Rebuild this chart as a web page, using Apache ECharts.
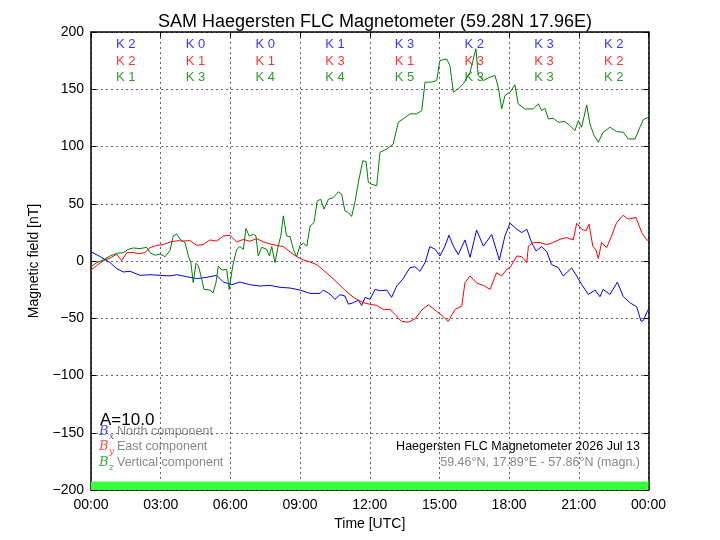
<!DOCTYPE html>
<html>
<head>
<meta charset="utf-8">
<script src="https://cdn.jsdelivr.net/npm/echarts@6/dist/echarts.min.js"></script>
<style>html,body{margin:0;padding:0;background:#fff}#chart{width:720px;height:540px}</style>
</head>
<body>
<div id="chart"></div>
<script>
// Data: [hour UTC, nT]
const northComponent = [[0,8],[0.39,3.9],[0.82,-1.4],[1.11,-6.7],[1.39,-9.6],[1.68,-9],[2.11,-12.5],[2.54,-12],[2.97,-12.5],[3.40,-13],[3.69,-12],[4.12,-13.7],[4.55,-15.4],[4.98,-14.3],[5.41,-12.5],[5.70,-18.4],[6.06,-20.7],[6.41,-18.4],[6.84,-20.7],[7.28,-21.9],[7.71,-21.3],[8.14,-23],[8.57,-23.6],[9.00,-25.4],[9.43,-28.3],[9.86,-28.3],[10.00,-25.4],[10.29,-28.9],[10.50,-33.5],[10.72,-29.4],[10.93,-30.6],[11.08,-37.7],[11.29,-36.5],[11.51,-34.2],[11.65,-38.8],[11.80,-31.8],[12.01,-33.5],[12.23,-24.8],[12.44,-26],[12.73,-25.4],[12.94,-31.8],[13.16,-21.9],[13.44,-15.4],[13.73,-5.8],[13.95,-5],[14.16,-9],[14.38,-1.4],[14.59,12.6],[14.81,10.3],[15.02,4.4],[15.24,13.1],[15.41,22.5],[15.60,13],[15.81,5.6],[16.10,18.4],[16.32,3.2],[16.60,27.1],[16.89,13],[17.25,23.1],[17.58,0.9],[17.82,21.9],[18.04,33],[18.33,27.8],[18.54,24.8],[18.76,27.8],[18.97,16.1],[19.16,8.8],[19.40,12.6],[19.62,8.2],[19.83,-3.2],[20.12,-5.8],[20.33,-13.1],[20.69,-6.1],[20.91,-13.1],[21.12,-20.4],[21.41,-29.2],[21.70,-25.4],[21.91,-31.2],[22.05,-24.8],[22.34,-29.2],[22.66,-18.4],[22.91,-31],[23.20,-36.4],[23.49,-40],[23.68,-52.8],[23.78,-52],[23.95,-43.8],[24,-42]];
const eastComponent = [[0,-7.9],[0.25,-3.8],[0.53,0.3],[0.82,2.6],[1.11,5.9],[1.32,0.3],[1.54,7.3],[1.82,7.5],[2.04,6.3],[2.32,7.3],[2.54,11.7],[2.83,13.7],[3.11,14.3],[3.40,16.6],[3.69,17.7],[3.97,17.4],[4.26,17.8],[4.55,13.7],[4.83,14.3],[5.12,18.4],[5.41,17.4],[5.70,21.9],[5.98,22.5],[6.27,16.6],[6.56,18.9],[6.84,17.2],[7.13,19.6],[7.42,16.6],[7.71,14.9],[7.99,13.7],[8.28,12.6],[8.57,7.9],[8.85,3.8],[9.14,0.9],[9.43,-0.9],[9.72,-3.2],[10.00,-7.9],[10.29,-13.1],[10.58,-18.4],[10.86,-24.2],[11.15,-29.4],[11.44,-33.5],[11.72,-36.4],[12.01,-37.8],[12.30,-38.8],[12.58,-42.3],[12.87,-42.3],[13.09,-46.7],[13.37,-52.8],[13.66,-53.4],[13.95,-50.5],[14.24,-42.9],[14.52,-38.2],[14.81,-42.9],[15.10,-47.5],[15.38,-52.8],[15.67,-42.3],[15.96,-39.4],[16.10,-18.9],[16.32,-13.1],[16.60,-19.2],[16.89,-21.3],[17.18,-24.8],[17.46,-10.2],[17.68,-13.1],[17.90,-7.3],[18.04,-5.8],[18.33,4.4],[18.54,3.8],[18.76,-1.4],[18.83,13.1],[19.04,16.1],[19.33,16.1],[19.62,14.3],[19.90,16.1],[20.19,19],[20.48,20.4],[20.76,18.4],[20.91,33],[21.12,27.8],[21.31,26.3],[21.44,32.1],[21.60,13.1],[21.74,9.6],[21.84,2.1],[21.98,16.1],[22.20,11.7],[22.41,21.9],[22.63,33.6],[22.91,40],[23.13,36.5],[23.46,38],[23.71,24.8],[23.92,18.4],[24,18]];
const verticalComponent = [[0,-4.9],[0.25,-1.4],[0.53,0.9],[0.82,4.4],[1.11,6.7],[1.39,7.3],[1.61,10.2],[1.82,11.4],[2.11,10.8],[2.40,12],[2.54,7.3],[2.76,5],[2.97,6.1],[3.19,3.8],[3.40,9.1],[3.54,21.9],[3.69,23.6],[3.83,19],[4.05,16.1],[4.19,4.4],[4.30,-1.4],[4.40,-18.9],[4.52,-2],[4.62,-4],[4.77,-16],[4.86,-24.8],[5.12,-25.4],[5.26,-27.8],[5.38,-18.9],[5.48,-4.4],[5.63,-7.9],[5.84,-7.3],[5.95,-24.8],[6.10,-4.4],[6.27,10.2],[6.41,12.6],[6.56,10.2],[6.67,28.4],[6.81,21.9],[6.99,23.3],[7.10,21.9],[7.20,4.4],[7.35,12],[7.56,10.2],[7.68,4.4],[7.78,12.6],[7.92,-1.4],[8.06,13.1],[8.17,21.9],[8.28,39.4],[8.42,21.9],[8.57,21.3],[8.71,10.2],[8.85,3.8],[9.00,13.7],[9.14,15.5],[9.29,13.1],[9.43,30.6],[9.60,33.5],[9.74,52.5],[9.89,53.9],[10.03,45.3],[10.22,53.9],[10.43,55.3],[10.65,60.4],[10.79,58.4],[10.93,43.8],[11.08,42.3],[11.22,38.9],[11.36,51.1],[11.51,68.7],[11.70,87.6],[11.84,86.7],[11.94,68.7],[12.08,67],[12.30,65.7],[12.44,94.9],[12.73,97.8],[13.01,102.2],[13.23,121.2],[13.44,124.1],[13.73,128.5],[14.02,128.5],[14.24,131.4],[14.38,156.2],[14.67,156.2],[14.88,157.6],[15.02,175.1],[15.31,176.5],[15.45,170.7],[15.60,147.5],[15.81,150.4],[16.03,154.8],[16.32,165],[16.57,185.4],[16.67,162],[16.89,157.6],[17.18,160.6],[17.39,162],[17.53,151.9],[17.68,132.8],[17.82,144.5],[18.04,147.5],[18.25,153.9],[18.39,137.2],[18.68,132.8],[19.04,132.8],[19.26,137.2],[19.40,131.4],[19.54,133.4],[19.69,124.1],[19.90,124.7],[20.12,121.2],[20.40,121.8],[20.62,118.2],[20.83,113.8],[20.98,122.6],[21.12,116.8],[21.34,136.3],[21.48,119.7],[21.65,110],[21.84,103.7],[22.05,112.5],[22.34,116.8],[22.63,113],[22.91,112.5],[23.13,106.6],[23.42,106.6],[23.63,116.8],[23.78,123.5],[23.95,125.2],[24,125.5]];

// K indices per 3-hour interval
const kNorth = [2,0,0,1,3,2,3,2];
const kEast = [2,1,1,3,1,3,3,2];
const kVertical = [1,3,4,4,5,3,3,2];

const FONT = 'Liberation Sans, Arial, sans-serif';
const kRowY = [189, 174.6, 160.6];
function kSeries(arr, rowY, color) {
  return {
    type: 'scatter', xAxisIndex: 0, yAxisIndex: 0, symbolSize: 0, silent: true, z: 5,
    data: arr.map((k, i) => [i * 3 + 1.5, rowY, k]),
    label: { show: true, position: 'inside', formatter: p => 'K ' + p.data[2], color: color, fontSize: 13, fontFamily: FONT }
  };
}
const gridLine = { show: true, lineStyle: { color: '#666', type: [2, 3], width: 1 } };
const axisLine = { show: true, onZero: false, lineStyle: { color: '#000', width: 1.5 } };
const tick = { show: true, inside: true, length: 5, lineStyle: { color: '#000', width: 1 } };
const fmtX = v => String(v % 24).padStart(2, '0') + ':00';
const fmtY = v => String(v).replace('-', '\u2212');

const chart = echarts.init(document.getElementById('chart'));
chart.setOption({
  animation: false,
  backgroundColor: '#fff',
  title: { text: 'SAM Haegersten FLC Magnetometer (59.28N 17.96E)', left: 370, top: 8, textAlign: 'center',
    textStyle: { fontSize: 18, fontWeight: 'normal', color: '#000', fontFamily: FONT } },
  grid: { left: 91, right: 71.5, top: 32, bottom: 50 },
  xAxis: [
    { type: 'value', min: 0, max: 24, interval: 3, position: 'bottom',
      name: 'Time [UTC]', nameLocation: 'middle', nameGap: 25,
      nameTextStyle: { fontSize: 14, color: '#000', fontFamily: FONT },
      axisLine, axisTick: tick, splitLine: gridLine,
      axisLabel: { formatter: fmtX, fontSize: 14, color: '#000', margin: 8, fontFamily: FONT } },
    { type: 'value', min: 0, max: 24, interval: 3, position: 'top',
      axisLine, axisTick: tick, splitLine: { show: false }, axisLabel: { show: false } }
  ],
  yAxis: [
    { type: 'value', min: -200, max: 200, interval: 50, position: 'left',
      name: 'Magnetic field [nT]', nameLocation: 'middle', nameGap: 44, nameRotate: 90,
      nameTextStyle: { fontSize: 14, color: '#000', fontFamily: FONT },
      axisLine, axisTick: tick, splitLine: gridLine,
      axisLabel: { formatter: fmtY, fontSize: 14, color: '#000', margin: 7, fontFamily: FONT } },
    { type: 'value', min: -200, max: 200, interval: 50, position: 'right',
      axisLine, axisTick: tick, splitLine: { show: false }, axisLabel: { show: false } }
  ],
  series: [
    { type: 'line', name: 'green bar', data: [], markArea: { silent: true, itemStyle: { color: '#3cff3c', opacity: 1 },
        data: [[{ xAxis: 0, yAxis: -200 }, { xAxis: 24, yAxis: -192.5 }]] } },
    { type: 'line', name: 'Bx', data: northComponent, showSymbol: false, lineStyle: { color: '#0000ff', width: 1 }, itemStyle: { color: '#0000ff' }, z: 3 },
    { type: 'line', name: 'By', data: eastComponent, showSymbol: false, lineStyle: { color: '#ff0000', width: 1 }, itemStyle: { color: '#ff0000' }, z: 3 },
    { type: 'line', name: 'Bz', data: verticalComponent, showSymbol: false, lineStyle: { color: '#007f00', width: 1 }, itemStyle: { color: '#007f00' }, z: 4 },
    kSeries(kNorth, kRowY[0], '#0000ff'),
    kSeries(kEast, kRowY[1], '#ff0000'),
    kSeries(kVertical, kRowY[2], '#008000')
  ],
  graphic: [
    { type: 'text', left: 100, top: 412, style: { text: 'A=10.0', fontSize: 17, fill: '#000', fontFamily: FONT } },
    { type: 'text', left: 99, top: 425, style: { text: 'B', fontSize: 13, fontStyle: 'italic', fill: '#4d4dff', fontFamily: 'DejaVu Serif, serif' } },
    { type: 'text', left: 109, top: 432, style: { text: 'x', fontSize: 9, fontStyle: 'italic', fill: '#4d4dff', fontFamily: 'DejaVu Serif, serif' } },
    { type: 'text', left: 117, top: 425, style: { text: 'North component', fontSize: 12.5, fill: '#888', fontFamily: FONT } },
    { type: 'text', left: 99, top: 440, style: { text: 'B', fontSize: 13, fontStyle: 'italic', fill: '#ff4d4d', fontFamily: 'DejaVu Serif, serif' } },
    { type: 'text', left: 109, top: 447, style: { text: 'y', fontSize: 9, fontStyle: 'italic', fill: '#ff4d4d', fontFamily: 'DejaVu Serif, serif' } },
    { type: 'text', left: 117, top: 440, style: { text: 'East component', fontSize: 12.5, fill: '#888', fontFamily: FONT } },
    { type: 'text', left: 99, top: 456, style: { text: 'B', fontSize: 13, fontStyle: 'italic', fill: '#3fa63f', fontFamily: 'DejaVu Serif, serif' } },
    { type: 'text', left: 109, top: 463, style: { text: 'z', fontSize: 9, fontStyle: 'italic', fill: '#3fa63f', fontFamily: 'DejaVu Serif, serif' } },
    { type: 'text', left: 117, top: 456, style: { text: 'Vertical component', fontSize: 12.5, fill: '#888', fontFamily: FONT } },
    { type: 'text', right: 80, top: 440, style: { text: 'Haegersten FLC Magnetometer 2026 Jul 13', fontSize: 12.5, fill: '#000', fontFamily: FONT } },
    { type: 'text', right: 80, top: 456, style: { text: '59.46°N, 17.89°E - 57.86°N (magn.)', fontSize: 12.5, fill: '#888', fontFamily: FONT } }
  ]
});
</script>
</body>
</html>
